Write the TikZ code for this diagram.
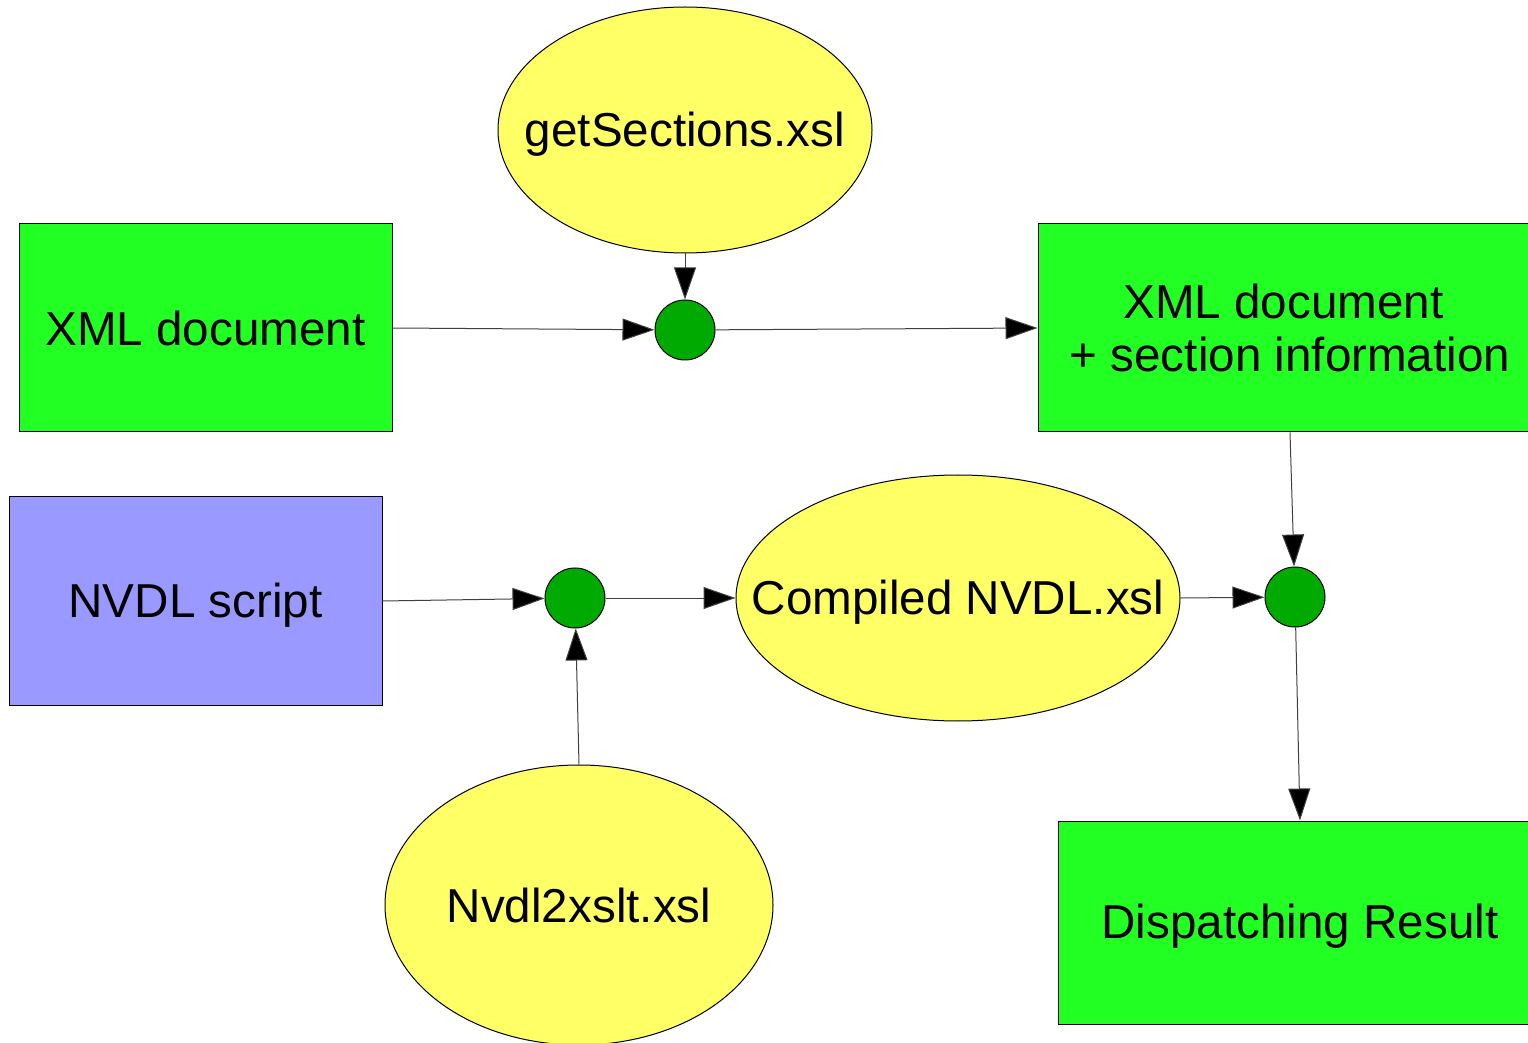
\documentclass[tikz,border=0pt]{standalone}
\usepackage{fontspec}
\setmainfont{Liberation Sans}
\usetikzlibrary{shapes.geometric,arrows.meta}
\definecolor{boxgreen}{HTML}{22FF22}
\definecolor{dotgreen}{HTML}{00AA00}
\definecolor{ovalyellow}{HTML}{FFFF66}
\definecolor{scriptblue}{HTML}{9999FF}
\definecolor{wire}{HTML}{404040}
% label lowered a little while keeping its measured size
\newcommand{\lowered}[1]{\raisebox{-2pt}[\height][\depth]{#1}}
% centred label of zero width for the ovals
\newcommand{\ovallabel}[1]{\makebox[0pt]{#1}}
\tikzset{
  every node/.style={font=\fontsize{23.8}{26.5}\selectfont},
  databox/.style={draw=black, line width=0.5pt, rectangle, inner sep=0pt, align=center},
  xslt/.style={draw=black, line width=0.5pt, ellipse, fill=ovalyellow, inner sep=0pt},
  joint/.style={draw=black, line width=0.5pt, circle, fill=dotgreen, inner sep=0pt, minimum size=30pt},
  flow/.style={draw=wire, line width=0.5pt, -{Triangle[length=16pt,width=11pt,fill=black]}},
}
\begin{document}
\begin{tikzpicture}[x=0.5pt, y=-0.5pt]
  \useasboundingbox (0,0) rectangle (1528,1043);

  % input documents
  \node[databox, fill=boxgreen, minimum width=186.5pt, minimum height=104pt] (xml) at (205.5,328) {XML document};
  \node[databox, fill=scriptblue, minimum width=186.5pt, minimum height=104pt] (nvdl) at (195.5,601) {\lowered{NVDL script}};

  % results
  \node[databox, fill=boxgreen, minimum width=252pt, minimum height=104pt] (xmlsec) at (1290,328) {XML document\hspace*{0.28em}\\ + section information};
  \node[databox, fill=boxgreen, minimum width=242pt, minimum height=101.5pt] (result) at (1300,922.5) {\lowered{Dispatching Result}};

  % stylesheets
  \node[xslt, minimum width=187pt, minimum height=123pt] (getsec) at (685,130) {\lowered{\ovallabel{getSections.xsl}}};
  \node[xslt, minimum width=222pt, minimum height=123pt] (compiled) at (958,598) {\lowered{\ovallabel{Compiled NVDL.xsl}}};
  \node[xslt, minimum width=194pt, minimum height=140pt] (nvdl2x) at (579,905) {\ovallabel{Nvdl2xslt.xsl}};

  % transformation points
  \node[joint] (t1) at (685,330) {};
  \node[joint] (t2) at (575,598) {};
  \node[joint] (t3) at (1295,597) {};

  % connectors
  \draw[flow] (xml.east) -- (t1);
  \draw[flow] (getsec.south) -- (t1);
  \draw[flow] (t1) -- (xmlsec.west);
  \draw[flow] (nvdl.east) -- (t2);
  \draw[flow] (nvdl2x.north) -- (t2);
  \draw[flow] (t2) -- (compiled.west);
  \draw[flow] (compiled.east) -- (t3);
  \draw[flow] (xmlsec.south) -- (t3);
  \draw[flow] (t3) -- (result.north);
\end{tikzpicture}
\end{document}
